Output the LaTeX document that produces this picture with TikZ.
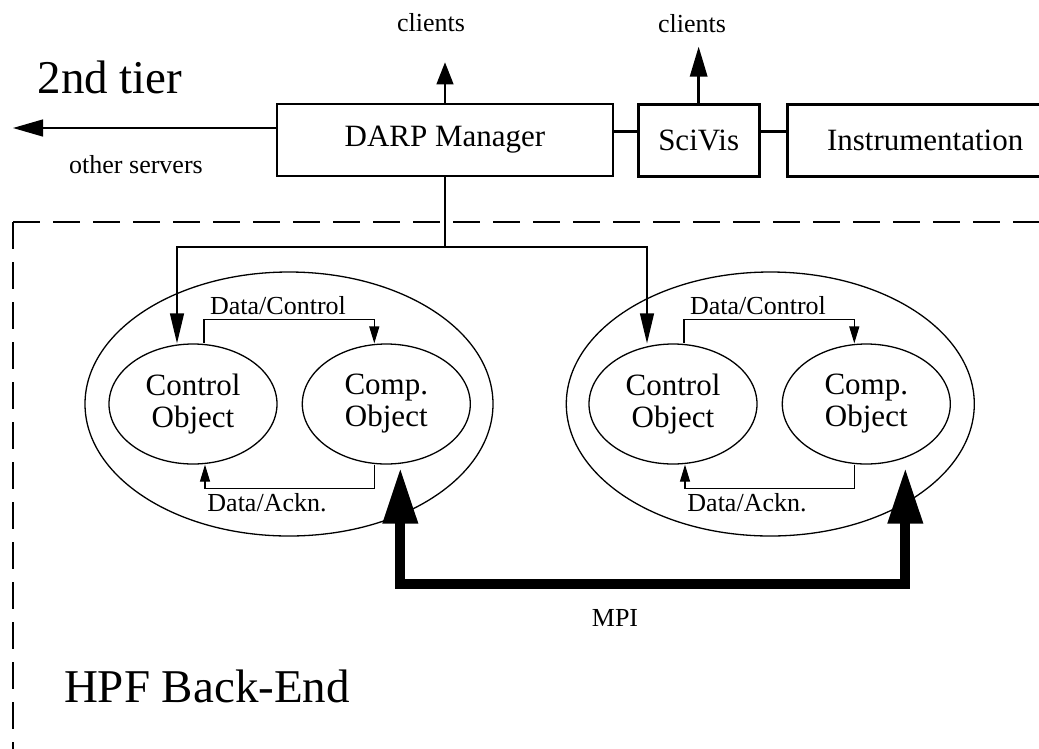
\documentclass[tikz,border=0pt]{standalone}
\usepackage{fontspec}
\setmainfont{Liberation Serif}
\usetikzlibrary{positioning, arrows.meta, shapes.geometric}

\begin{document}
\begin{tikzpicture}[
    x=1pt, y=-1pt,
    % Styles
    box/.style={
        draw, rectangle, line width=1.3pt, minimum height=72pt, inner sep=0pt, font=\fontsize{31}{34}\selectfont
    },
    heavybox/.style={box, line width=3pt},
    tier/.style={font=\fontsize{47}{50}\selectfont, inner sep=0pt},
    small/.style={font=\fontsize{26}{28}\selectfont, inner sep=0pt},
    group/.style={
        draw, ellipse, line width=1.3pt, minimum width=408pt, minimum height=264pt, inner sep=0pt
    },
    object/.style={
        draw, ellipse, line width=1.3pt, minimum width=168pt, minimum height=120pt, inner sep=0pt, align=center, font=\fontsize{31}{32}\selectfont
    },
    link/.style={line width=1.3pt},
    heavylink/.style={line width=3pt},
    export/.style={-{Triangle[length=30pt, width=17pt]}, line width=1.3pt},
    feed/.style={-{Triangle[length=30pt, width=14pt]}, line width=1.3pt},
    flow/.style={-{Triangle[length=17pt, width=10pt]}, line width=1.3pt},
    mpi/.style={{Triangle[length=56pt, width=33pt]}-{Triangle[length=56pt, width=33pt]}, line width=10pt, line join=miter},
    border/.style={dash pattern=on 27pt off 13pt, line width=2pt}
]
    \useasboundingbox (0,0) rectangle (1039,748);

    % --- 2ND TIER ---
    \node[tier] (tier2) at (110,77) {2nd tier};
    \node[box, minimum width=336pt] (darp) at (445,140) {DARP Manager};
    \node[heavybox, minimum width=121pt, right=23pt of darp] (scivis) {SciVis};
    \node[heavybox, minimum width=276pt, right=25pt of scivis] (instr) {Instrumentation};

    \node[small] (clientsA) at (431,23) {clients};
    \node[small] (clientsB) at (692,24) {clients};
    \node[small] (others) at (136,165) {other servers};

    \coordinate[above=41pt of darp.north] (clientsAtip);
    \coordinate[above=56pt of scivis.north] (clientsBtip);
    \coordinate (othersTip) at (13,128);
    \coordinate (split) at (445,247);

    % --- HPF BACK-END ---
    \draw[border] (13,222) -- (1100,222);
    \draw[border] (13,222) -- (13,800);
    \node[tier] (backend) at (207,686) {HPF Back-End};

    % Left group
    \node[group] (outerL) at (289,404) {};
    \node[object] (ctrlL) at (193,404) {Control\\Object};
    \node[object, right=24pt of ctrlL] (compL) {Comp.\\Object};
    % Right group
    \node[group, right=72pt of outerL] (outerR) {};
    \node[object] (ctrlR) at (673,404) {Control\\Object};
    \node[object, right=24pt of ctrlR] (compR) {Comp.\\Object};

    \node[small] (dcL) at (278,306) {Data/Control};
    \node[small] (daL) at (267,503) {Data/Ackn.};
    \node[small] (dcR) at (758,306) {Data/Control};
    \node[small] (daR) at (747,503) {Data/Ackn.};

    \coordinate (mpibar) at (650,584);
    \node[small] (mpilabel) at (615,618) {MPI};

    % --- CONNECTIONS ---
    \draw[export, -{Triangle[length=22pt, width=17pt]}] (darp.north) -- (clientsAtip);
    \draw[export, line width=3pt] (scivis.north) -- (clientsBtip);
    \draw[export] ([yshift=12pt]darp.west) -- (othersTip);
    \draw[heavylink] ([yshift=9pt]darp.east) -- ([yshift=9pt]scivis.west);
    \draw[heavylink] ([yshift=9pt]scivis.east) -- ([yshift=9pt]instr.west);

    \draw[link] (darp.south) -- (split);
    \draw[feed] (split) -| ([xshift=-16pt]ctrlL.north);
    \draw[feed] (split) -| ([xshift=-26pt]ctrlR.north);

    % Inside the groups
    \draw[flow] ([xshift=11pt]ctrlL.north) -- ++(0,-24) -| ([xshift=-12pt]compL.north);
    \draw[flow] ([xshift=-12pt]compL.south) -- ++(0,24) -| ([xshift=12pt]ctrlL.south);
    \draw[flow] ([xshift=11pt]ctrlR.north) -- ++(0,-24) -| ([xshift=-12pt]compR.north);
    \draw[flow] ([xshift=-12pt]compR.south) -- ++(0,24) -| ([xshift=12pt]ctrlR.south);

    % MPI
    \draw[mpi] ([xshift=14pt, yshift=-3pt]compL.south) |- (mpibar) -| ([xshift=39pt, yshift=-3pt]compR.south);

\end{tikzpicture}
\end{document}
